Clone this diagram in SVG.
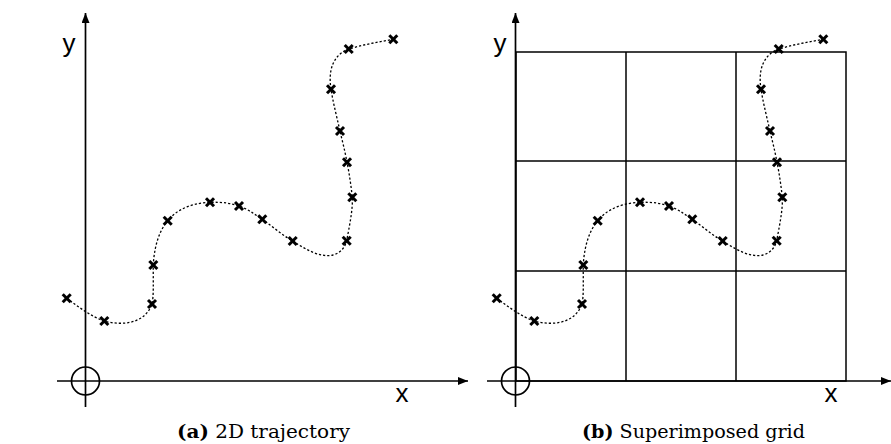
<svg xmlns="http://www.w3.org/2000/svg" width="891" height="444" viewBox="0 0 891 444">
<style>
.axis{stroke:#000;stroke-width:1.7;fill:none}
.grid{stroke:#000;stroke-width:1.5;fill:none}
.traj{stroke:#000;stroke-width:1.3;fill:none;stroke-dasharray:2.2 2}
.mk{stroke:#000;stroke-width:3;stroke-linecap:butt}
.lab{font-family:"Liberation Sans",Arial,sans-serif;font-size:26px;fill:#000}
.cap{font-family:"DejaVu Serif","Liberation Serif",serif;font-size:18px;fill:#000}
.capb{font-weight:bold}
</style>
<defs>
<marker id="arr" viewBox="0 0 10 8" refX="10" refY="4" markerWidth="10" markerHeight="8" markerUnits="userSpaceOnUse" orient="auto">
<path d="M0,0 L10,4 L0,8 Z" fill="#000"/>
</marker>
<g id="cross"><line class="mk" x1="-4" y1="-4" x2="4" y2="4"/><line class="mk" x1="-4" y1="4" x2="4" y2="-4"/></g>
<path id="curve" class="traj" d="M66.7 298.3 C80 308,92 317,104.3 321 C118 325,144 326,152 304 C154 295,153 280,153.3 265 C154 250,158 232,167.7 220.7 C180 206,197 203,210 202.3 C222 202,230 203,239 206 C248 209,254 214,262.3 219.3 C272 226,282 235,292.7 241 C305 249,320 258,333 255 C340 253,345 248,346.7 240.7 C349 228,353 210,352.3 197.3 C351 185,349 172,347 162.3 C345 151,342 140,340 131 C337 118,333 102,331 89.3 C328 70,333 55,348.7 49 C362 45,378 42,393.3 39.3"/>
<g id="marks">
<use href="#cross" x="66.7" y="298.3"/>
<use href="#cross" x="104.3" y="321"/>
<use href="#cross" x="152" y="304"/>
<use href="#cross" x="153.3" y="265"/>
<use href="#cross" x="167.7" y="220.7"/>
<use href="#cross" x="210" y="202.3"/>
<use href="#cross" x="239" y="206"/>
<use href="#cross" x="262.3" y="219.3"/>
<use href="#cross" x="292.7" y="241"/>
<use href="#cross" x="346.7" y="240.7"/>
<use href="#cross" x="352.3" y="197.3"/>
<use href="#cross" x="347" y="162.3"/>
<use href="#cross" x="340" y="131"/>
<use href="#cross" x="331" y="89.3"/>
<use href="#cross" x="348.7" y="49"/>
<use href="#cross" x="393.3" y="39.3"/>
</g>
</defs>

<g id="panel-a">
<g id="axes-a">
<line class="axis" x1="85.5" y1="407" x2="85.5" y2="13" marker-end="url(#arr)"/>
<line class="axis" x1="57" y1="381" x2="468" y2="381" marker-end="url(#arr)"/>
<circle class="axis" cx="85.5" cy="381" r="14"/>
<text class="lab" x="69" y="52" text-anchor="middle">y</text>
<text class="lab" x="402" y="402" text-anchor="middle">x</text>
</g>
<g id="trajectory-a">
<use href="#curve"/>
<use href="#marks"/>
</g>
<text class="cap" x="177" y="438" textLength="173" lengthAdjust="spacingAndGlyphs"><tspan class="capb">(a)</tspan> 2D trajectory</text>
</g>

<g id="panel-b">
<g id="grid-b">
<rect class="grid" x="516" y="52" width="330" height="329"/>
<line class="grid" x1="626" y1="52" x2="626" y2="381"/>
<line class="grid" x1="736" y1="52" x2="736" y2="381"/>
<line class="grid" x1="516" y1="161" x2="846" y2="161"/>
<line class="grid" x1="516" y1="271" x2="846" y2="271"/>
</g>
<g id="axes-b">
<line class="axis" x1="515.5" y1="407" x2="515.5" y2="13" marker-end="url(#arr)"/>
<line class="axis" x1="487" y1="381" x2="891" y2="381" marker-end="url(#arr)"/>
<circle class="axis" cx="515.5" cy="381" r="14"/>
<text class="lab" x="500" y="52" text-anchor="middle">y</text>
<text class="lab" x="831" y="402" text-anchor="middle">x</text>
</g>
<g id="trajectory-b" transform="translate(430,0)">
<use href="#curve"/>
<use href="#marks"/>
</g>
<text class="cap" x="582" y="438" textLength="223" lengthAdjust="spacingAndGlyphs"><tspan class="capb">(b)</tspan> Superimposed grid</text>
</g>
</svg>
